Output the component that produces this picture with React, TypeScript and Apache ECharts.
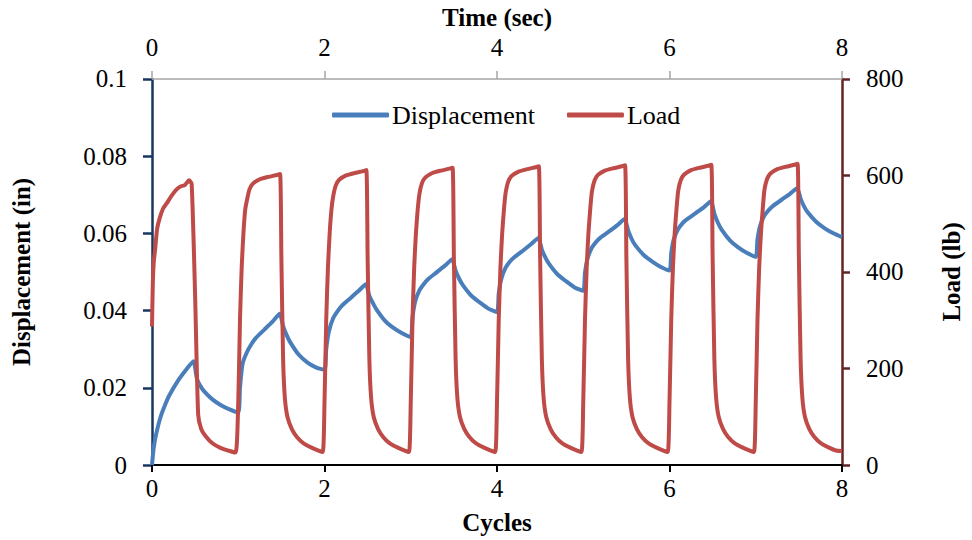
import React, { useEffect, useRef } from "react";
import * as echarts from "echarts";

const xTicks = [0, 2, 4, 6, 8];
const dispTicksMax = 0.1;
const loadTicksMax = 800;

const dispT = [
  0, 0.02, 0.05, 0.1, 0.15, 0.2, 0.3, 0.4, 0.48, 0.52, 0.56, 0.6, 0.7, 0.8, 0.9,
  1.0, 1.02, 1.05, 1.1, 1.15, 1.2, 1.3, 1.4, 1.48, 1.52, 1.56, 1.6, 1.7, 1.8, 1.9,
  2.0, 2.02, 2.05, 2.1, 2.15, 2.2, 2.3, 2.4, 2.48, 2.52, 2.56, 2.6, 2.7, 2.8, 2.9,
  3.0, 3.02, 3.05, 3.1, 3.15, 3.2, 3.3, 3.4, 3.48, 3.52, 3.56, 3.6, 3.7, 3.8, 3.9,
  4.0, 4.02, 4.05, 4.1, 4.15, 4.2, 4.3, 4.4, 4.48, 4.52, 4.56, 4.6, 4.7, 4.8, 4.9,
  5.0, 5.02, 5.05, 5.1, 5.15, 5.2, 5.3, 5.4, 5.48, 5.52, 5.56, 5.6, 5.7, 5.8, 5.9,
  6.0, 6.02, 6.05, 6.1, 6.15, 6.2, 6.3, 6.4, 6.48, 6.52, 6.56, 6.6, 6.7, 6.8, 6.9,
  7.0, 7.02, 7.05, 7.1, 7.15, 7.2, 7.3, 7.4, 7.48, 7.52, 7.56, 7.6, 7.7, 7.8, 7.9, 8.0,
];
const dispV = [
  0, 0.0045, 0.0082, 0.0125, 0.0155, 0.018, 0.0218, 0.0248, 0.0269, 0.0224, 0.0205, 0.0192, 0.017, 0.0155, 0.0144,
  0.0136, 0.02, 0.0262, 0.0292, 0.0312, 0.0328, 0.035, 0.0372, 0.0392, 0.036, 0.0337, 0.0319, 0.0286, 0.0266, 0.0253,
  0.0246, 0.03, 0.0345, 0.038, 0.0398, 0.0412, 0.0432, 0.0452, 0.0468, 0.0438, 0.042, 0.0404, 0.0374, 0.0355, 0.0341,
  0.0331, 0.0381, 0.0422, 0.0452, 0.0468, 0.0481, 0.0499, 0.0517, 0.0533, 0.0503, 0.0483, 0.0467, 0.0439, 0.0421, 0.0405,
  0.0396, 0.0444, 0.0482, 0.0511, 0.0527, 0.0538, 0.0555, 0.0573, 0.0588, 0.0558, 0.0538, 0.0522, 0.0494, 0.0476, 0.046,
  0.0451, 0.0498, 0.0535, 0.0563, 0.0578, 0.0589, 0.0605, 0.0622, 0.0637, 0.0608, 0.0586, 0.057, 0.0544, 0.0527, 0.0513,
  0.0504, 0.0549, 0.0585, 0.0611, 0.0626, 0.0636, 0.0652, 0.0668, 0.0683, 0.0651, 0.0628, 0.0611, 0.0582, 0.0563, 0.0549,
  0.0539, 0.0584, 0.0619, 0.0646, 0.066, 0.0671, 0.0687, 0.0703, 0.0717, 0.069, 0.067, 0.0655, 0.063, 0.0613, 0.06, 0.059,
];

const loadT = [
  0, 0.01, 0.02, 0.035, 0.06, 0.09, 0.13, 0.17, 0.22, 0.28, 0.33, 0.38, 0.43, 0.46, 0.5, 0.535, 0.57, 0.62, 0.7, 0.8, 0.9, 0.97,
  1.0, 1.02, 1.04, 1.06, 1.08, 1.1, 1.13, 1.17, 1.25, 1.35, 1.45, 1.485, 1.5, 1.52, 1.54, 1.57, 1.62, 1.68, 1.75, 1.85, 1.93, 1.98,
  2.0, 2.02, 2.04, 2.06, 2.08, 2.1, 2.13, 2.17, 2.25, 2.35, 2.45, 2.485, 2.5, 2.52, 2.54, 2.57, 2.62, 2.68, 2.75, 2.85, 2.93, 2.98,
  3.0, 3.02, 3.04, 3.06, 3.08, 3.1, 3.13, 3.17, 3.25, 3.35, 3.45, 3.485, 3.5, 3.52, 3.54, 3.57, 3.62, 3.68, 3.75, 3.85, 3.93, 3.98,
  4.0, 4.02, 4.04, 4.06, 4.08, 4.1, 4.13, 4.17, 4.25, 4.35, 4.45, 4.485, 4.5, 4.52, 4.54, 4.57, 4.62, 4.68, 4.75, 4.85, 4.93, 4.98,
  5.0, 5.02, 5.04, 5.06, 5.08, 5.1, 5.13, 5.17, 5.25, 5.35, 5.45, 5.485, 5.5, 5.52, 5.54, 5.57, 5.62, 5.68, 5.75, 5.85, 5.93, 5.98,
  6.0, 6.02, 6.04, 6.06, 6.08, 6.1, 6.13, 6.17, 6.25, 6.35, 6.45, 6.485, 6.5, 6.52, 6.54, 6.57, 6.62, 6.68, 6.75, 6.85, 6.93, 6.98,
  7.0, 7.02, 7.04, 7.06, 7.08, 7.1, 7.13, 7.17, 7.25, 7.35, 7.45, 7.485, 7.5, 7.52, 7.54, 7.57, 7.62, 7.68, 7.75, 7.85, 7.93, 8.0,
];
const loadV = [
  287, 380, 420, 445, 490, 512, 532, 542, 556, 570, 577, 580, 590, 582, 350, 105, 75, 60, 45, 35, 29, 26,
  130, 300, 410, 480, 528, 548, 571, 583, 592, 597, 601, 603, 430, 220, 140, 100, 75, 58, 46, 36, 30, 27,
  130, 300, 410, 480, 528, 556, 579, 591, 600, 605, 609, 611, 430, 220, 140, 100, 75, 58, 46, 36, 30, 27,
  130, 300, 410, 480, 528, 561, 584, 596, 605, 610, 614, 616, 430, 220, 140, 100, 75, 58, 46, 36, 30, 27,
  130, 300, 410, 480, 528, 564, 587, 599, 608, 613, 617, 619, 430, 220, 140, 100, 75, 58, 46, 36, 30, 27,
  130, 300, 410, 480, 528, 566, 589, 601, 610, 615, 619, 621, 430, 220, 140, 100, 75, 58, 46, 36, 30, 27,
  130, 300, 410, 480, 528, 567, 590, 602, 611, 616, 620, 622, 430, 220, 140, 100, 75, 58, 46, 36, 30, 27,
  130, 300, 410, 480, 528, 569, 592, 604, 613, 618, 622, 624, 430, 220, 140, 100, 75, 58, 46, 36, 30, 29,
];

const FONT = "'Liberation Serif', 'Times New Roman', 'DejaVu Serif', serif";

export default function App() {
  const ref = useRef<HTMLDivElement>(null);
  useEffect(() => {
    document.body.style.margin = "0";
    document.body.style.overflow = "hidden";
    const chart = echarts.init(ref.current!, null, { renderer: "svg" });
    const dispData = dispT.map((t, i) => [t, dispV[i]]);
    const loadData = loadT.map((t, i) => [t, loadV[i]]);
    const xMax = xTicks[xTicks.length - 1];
    const xInt = xTicks[1] - xTicks[0];
    chart.setOption({
      animation: false,
      textStyle: { fontFamily: FONT, color: "#000" },
      grid: { left: 152, right: 126, top: 77, bottom: 73, containLabel: false },
      legend: {
        left: 327,
        top: 97,
        icon: "roundRect",
        itemWidth: 57,
        itemHeight: 5,
        itemGap: 32,
        textStyle: { fontFamily: FONT, fontSize: 26, color: "#000", padding: [0, 0, 0, -2] },
        data: ["Displacement", "Load"],
      },
      xAxis: [
        {
          type: "value",
          position: "bottom",
          min: 0,
          max: xMax,
          interval: xInt,
          name: "Cycles",
          nameLocation: "middle",
          nameGap: 45,
          nameTextStyle: { fontFamily: FONT, fontSize: 25, fontWeight: "bold", color: "#000" },
          splitLine: { show: false },
          axisLine: { onZero: false, lineStyle: { color: "#000", width: 2 } },
          axisTick: { show: true, length: 7, lineStyle: { color: "#000", width: 2 } },
          axisLabel: { fontFamily: FONT, fontSize: 25, color: "#000", margin: 11 },
        },
        {
          type: "value",
          position: "top",
          min: 0,
          max: xMax,
          interval: xInt,
          name: "Time (sec)",
          nameLocation: "middle",
          nameGap: 46,
          nameTextStyle: { fontFamily: FONT, fontSize: 25, fontWeight: "bold", color: "#000" },
          splitLine: { show: false },
          axisLine: { onZero: false, lineStyle: { color: "#A6A6A6", width: 1.5 } },
          axisTick: { show: true, length: 8, lineStyle: { color: "#A6A6A6", width: 1.5 } },
          axisLabel: { fontFamily: FONT, fontSize: 25, color: "#000", margin: 19 },
        },
      ],
      yAxis: [
        {
          type: "value",
          position: "left",
          min: 0,
          max: dispTicksMax,
          interval: 0.02,
          name: "Displacement (in)",
          nameLocation: "middle",
          nameRotate: 90,
          nameGap: 118,
          nameTextStyle: { fontFamily: FONT, fontSize: 25, fontWeight: "bold", color: "#000" },
          splitLine: { show: false },
          axisLine: { show: true, onZero: false, lineStyle: { color: "#17375E", width: 2.5 } },
          axisTick: { show: true, length: 9, lineStyle: { color: "#17375E", width: 2.5 } },
          axisLabel: { fontFamily: FONT, fontSize: 25, color: "#000", margin: 25 },
        },
        {
          type: "value",
          position: "right",
          min: 0,
          max: loadTicksMax,
          interval: 200,
          name: "Load (lb)",
          nameLocation: "middle",
          nameRotate: 90,
          nameGap: 97,
          nameTextStyle: { fontFamily: FONT, fontSize: 25, fontWeight: "bold", color: "#000" },
          splitLine: { show: false },
          axisLine: { show: true, onZero: false, lineStyle: { color: "#632523", width: 2.5 } },
          axisTick: { show: true, length: 8, lineStyle: { color: "#632523", width: 2.5 } },
          axisLabel: { fontFamily: FONT, fontSize: 25, color: "#000", margin: 24 },
        },
      ],
      series: [
        {
          name: "Displacement",
          type: "line",
          xAxisIndex: 0,
          yAxisIndex: 0,
          data: dispData,
          showSymbol: false,
          symbol: "none",
          smooth: 0.2,
          color: "#4A7EBB",
          lineStyle: { color: "#4A7EBB", width: 4 },
        },
        {
          name: "Load",
          type: "line",
          xAxisIndex: 0,
          yAxisIndex: 1,
          data: loadData,
          showSymbol: false,
          symbol: "none",
          smooth: 0.2,
          color: "#BE4B48",
          lineStyle: { color: "#BE4B48", width: 4 },
        },
      ],
    });
    return () => chart.dispose();
  }, []);
  return <div ref={ref} style={{ width: 972, height: 540 }} />;
}
